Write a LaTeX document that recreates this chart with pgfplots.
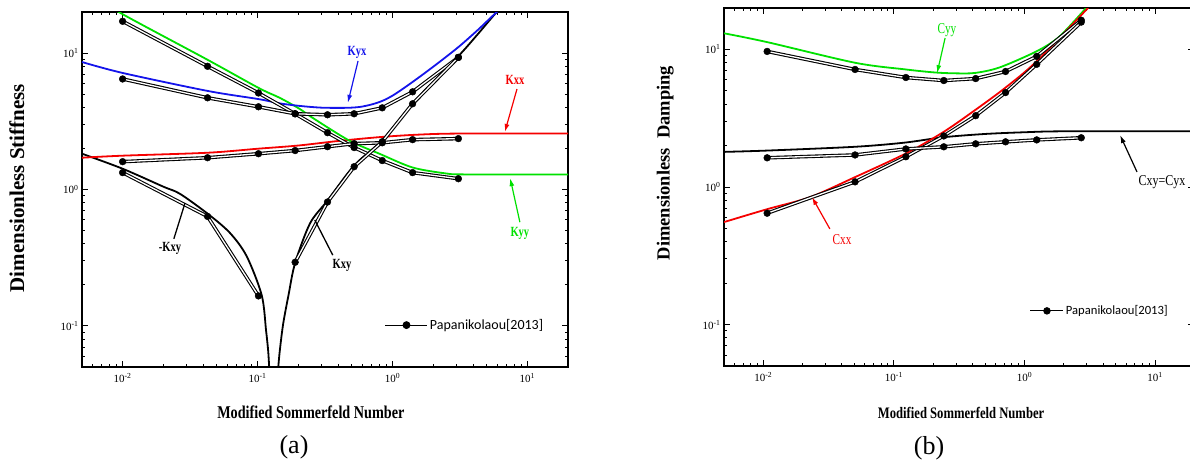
\documentclass[border=0pt]{standalone}
\usepackage{pgfplots}
\pgfplotsset{compat=1.18}
\usepackage{fontspec}
\setmainfont{Liberation Serif}
\newfontfamily\carlito{Carlito}
\usepackage{graphicx}
\usetikzlibrary{arrows.meta}
\definecolor{kgreen}{RGB}{0,225,0}
\definecolor{kblue}{RGB}{20,20,235}
\definecolor{kred}{RGB}{245,0,0}

\pgfplotsset{
  scale only axis,
  xmin=0.005, xmax=20, ymin=0.05, ymax=20,
  xtick={0.01,0.1,1,10},
  xticklabels={10\textsuperscript{-2},10\textsuperscript{-1},10\textsuperscript{0},10\textsuperscript{1}},
  ytick={0.1,1,10},
  yticklabels={10\textsuperscript{-1},10\textsuperscript{0},10\textsuperscript{1}},
  minor xtick={0.006,0.007,0.008,0.009,0.02,0.03,0.04,0.05,0.06,0.07,0.08,0.09,0.2,0.3,0.4,0.5,0.6,0.7,0.8,0.9,2,3,4,5,6,7,8,9},
  minor ytick={0.06,0.07,0.08,0.09,0.2,0.3,0.4,0.5,0.6,0.7,0.8,0.9,2,3,4,5,6,7,8,9},
  tick align=inside,
  major tick length=6pt, minor tick length=3.5pt,
  tick style={black, line width=1pt},
  axis line style={line width=1.6pt},
  tick label style={font=\fontsize{11}{12}\selectfont},
  xticklabel style={yshift=-3pt},
}
\tikzset{
  model/.style={line width=1.8pt, smooth, tension=0.5},
  datl/.style={black, line width=1.1pt, double=white, double distance=1.3pt},
  datm/.style={black, mark=*, mark size=3.4pt},
  ann/.style={font=\bfseries\fontsize{14}{16}\selectfont},
  annc/.style={font=\fontsize{15}{17}\selectfont},
}

\begin{document}
\begin{tikzpicture}
% ---------------- (a) ----------------
\begin{loglogaxis}[at={(82pt,100pt)}, anchor=south west, width=486pt, height=355pt,
  xlabel={\scalebox{0.79}[1]{Modified Sommerfeld Number}},
  xlabel style={font=\bfseries\fontsize{18}{20}\selectfont, at={(axis description cs:0.471,-0.127)}, anchor=center},
  ylabel={Dimensionless Stiffness},
  ylabel style={font=\bfseries\fontsize{21}{24}\selectfont, at={(axis description cs:-0.134,0.504)}, anchor=center},
  legend style={at={(axis description cs:0.623,0.118)}, anchor=west, draw=none, fill=none, font=\carlito\fontsize{14}{16}\selectfont, inner sep=0pt},
  legend image code/.code={\draw[mark repeat=2,mark phase=2,#1] plot coordinates {(0pt,0pt) (21pt,0pt) (42pt,0pt)};},
]
% model curves
\addplot[model, black, forget plot] coordinates {(0.005,1.83) (0.01,1.42) (0.02,1.05) (0.0266,0.93) (0.0431,0.66) (0.0625,0.48) (0.083,0.325) (0.1074,0.168) (0.1156,0.093) (0.12,0.065) (0.1225,0.046)};
\addplot[model, black, forget plot] coordinates {(0.1415,0.046) (0.146,0.065) (0.155,0.104) (0.17,0.17) (0.19,0.29) (0.245,0.565) (0.33,0.83) (0.52,1.5) (0.84,2.3) (1.45,4.4) (3.08,9.5) (4.3,13.8) (5.93,20) (7,23)};
\addplot[model, kred, forget plot] coordinates {(0.005,1.71) (0.01,1.77) (0.0426,1.86) (0.1,1.99) (0.2,2.1) (0.4,2.27) (0.8,2.42) (1.5,2.52) (3,2.57) (20,2.57)};
\addplot[model, kgreen, forget plot] coordinates {(0.008,23) (0.0098,19.5) (0.042,9.0) (0.1016,5.56) (0.146,4.7) (0.205,3.9) (0.255,3.36) (0.48,2.28) (0.8,1.83) (1.41,1.45) (2.51,1.31) (3.5,1.29) (20,1.29)};
\addplot[model, kblue, forget plot] coordinates {(0.005,8.6) (0.01,7.15) (0.0426,5.28) (0.1016,4.6) (0.146,4.28) (0.205,4.1) (0.3,3.98) (0.456,3.97) (0.574,4.03) (0.7,4.2) (0.84,4.46) (1.01,4.9) (1.3,5.8) (1.79,7.3) (2.4,9.1) (3.16,11.3) (4.3,14.8) (5.93,20) (7,23)};
% Papanikolaou data
\addplot[datl, forget plot] coordinates {(0.01,17.1) (0.0426,8.0) (0.1016,5.1) (0.19,3.59) (0.33,2.61) (0.52,2.03) (0.84,1.63) (1.41,1.33) (3.08,1.20)};
\addplot[datl, forget plot] coordinates {(0.01,6.46) (0.0426,4.70) (0.1016,4.04) (0.19,3.59) (0.33,3.53) (0.52,3.59) (0.84,3.97) (1.41,5.2) (3.08,9.3)};
\addplot[datl, forget plot] coordinates {(0.01,1.60) (0.0426,1.71) (0.1016,1.83) (0.19,1.93) (0.33,2.06) (0.52,2.17) (0.84,2.20) (1.41,2.32) (3.08,2.36)};
\addplot[datl, forget plot] coordinates {(0.01,1.33) (0.0426,0.635) (0.1016,0.166)};
\addplot[datl, forget plot] coordinates {(0.19,0.293) (0.33,0.81) (0.52,1.47) (0.84,2.24) (1.41,4.25) (3.08,9.3)};
\addplot[datm, only marks, forget plot] coordinates {(0.01,17.1) (0.0426,8.0) (0.1016,5.1) (0.19,3.59) (0.33,2.61) (0.52,2.03) (0.84,1.63) (1.41,1.33) (3.08,1.20)};
\addplot[datm, only marks, forget plot] coordinates {(0.01,6.46) (0.0426,4.70) (0.1016,4.04) (0.19,3.59) (0.33,3.53) (0.52,3.59) (0.84,3.97) (1.41,5.2) (3.08,9.3)};
\addplot[datm, only marks, forget plot] coordinates {(0.01,1.60) (0.0426,1.71) (0.1016,1.83) (0.19,1.93) (0.33,2.06) (0.52,2.17) (0.84,2.20) (1.41,2.32) (3.08,2.36)};
\addplot[datm, only marks, forget plot] coordinates {(0.01,1.33) (0.0426,0.635) (0.1016,0.166)};
\addplot[datm, only marks, forget plot] coordinates {(0.19,0.293) (0.33,0.81) (0.52,1.47) (0.84,2.24) (1.41,4.25) (3.08,9.3)};
\addlegendimage{black, line width=1pt, mark=*, mark size=3.4pt}
\addlegendentry{Papanikolaou[2013]}
% annotations
\node[ann, kblue] at (rel axis cs:0.566,0.887) {\scalebox{0.75}[1]{Kyx}};
\draw[kblue, line width=1.2pt, -{Latex[length=8pt,width=5pt]}] (rel axis cs:0.568,0.862) -- (rel axis cs:0.547,0.744);
\node[ann, kred] at (rel axis cs:0.891,0.808) {\scalebox{0.75}[1]{Kxx}};
\draw[kred, line width=1.2pt, -{Latex[length=8pt,width=5pt]}] (rel axis cs:0.895,0.783) -- (rel axis cs:0.870,0.662);
\node[ann, kgreen] at (rel axis cs:0.901,0.377) {\scalebox{0.75}[1]{Kyy}};
\draw[kgreen, line width=1.2pt, -{Latex[length=8pt,width=5pt]}] (rel axis cs:0.901,0.408) -- (rel axis cs:0.881,0.532);
\node[ann, black] at (rel axis cs:0.181,0.335) {\scalebox{0.75}[1]{-Kxy}};
\draw[black, line width=1.3pt] (rel axis cs:0.189,0.361) -- (rel axis cs:0.212,0.462);
\node[ann, black] at (rel axis cs:0.535,0.287) {\scalebox{0.75}[1]{Kxy}};
\draw[black, line width=1.3pt] (rel axis cs:0.516,0.315) -- (rel axis cs:0.479,0.414);
\end{loglogaxis}

% ---------------- (b) ----------------
\begin{loglogaxis}[at={(724pt,101pt)}, anchor=south west, width=470.4pt, height=358pt,
  xlabel={\scalebox{0.79}[1]{Modified Sommerfeld Number}},
  xlabel style={font=\bfseries\fontsize{16}{18}\selectfont, at={(axis description cs:0.504,-0.131)}, anchor=center},
  ylabel={Dimensionless\ \ Damping},
  ylabel style={font=\bfseries\fontsize{18.5}{22}\selectfont, at={(axis description cs:-0.125,0.567)}, anchor=center},
  legend style={at={(axis description cs:0.650,0.154)}, anchor=west, draw=none, fill=none, font=\carlito\fontsize{12.6}{15}\selectfont, inner sep=0pt},
  legend image code/.code={\draw[mark repeat=2,mark phase=2,#1] plot coordinates {(0pt,0pt) (16.5pt,0pt) (33pt,0pt)};},
]
\addplot[model, black, forget plot] coordinates {(0.005,1.8) (0.0107,1.84) (0.05,1.96) (0.12,2.1) (0.24,2.3) (0.5,2.43) (1,2.5) (2,2.54) (20,2.54)};
\addplot[model, kgreen, forget plot] coordinates {(0.005,13.1) (0.0107,11.3) (0.0504,8.0) (0.1235,7.15) (0.206,6.8) (0.3,6.7) (0.42,6.75) (0.645,7.4) (1.24,9.7) (1.85,12.4) (3.0,20.3)};
\addplot[model, kred, forget plot] coordinates {(0.005,0.556) (0.0107,0.69) (0.0229,0.845) (0.0504,1.18) (0.126,1.77) (0.241,2.52) (0.423,3.65) (0.716,5.28) (1.24,8.2) (3.0,19.6) (3.3,22)};
\addplot[datl, forget plot] coordinates {(0.0107,9.67) (0.0504,7.15) (0.1235,6.25) (0.241,5.94) (0.423,6.14) (0.716,6.91) (1.24,8.9) (2.72,16.3)};
\addplot[datl, forget plot] coordinates {(0.0107,0.645) (0.0504,1.09) (0.1235,1.66) (0.241,2.35) (0.423,3.3) (0.716,4.86) (1.24,7.8) (2.72,15.8)};
\addplot[datl, forget plot] coordinates {(0.0107,1.63) (0.0504,1.71) (0.1235,1.89) (0.241,1.96) (0.423,2.06) (0.716,2.13) (1.24,2.2) (2.72,2.28)};
\addplot[datm, only marks, forget plot] coordinates {(0.0107,9.67) (0.0504,7.15) (0.1235,6.25) (0.241,5.94) (0.423,6.14) (0.716,6.91) (1.24,8.9) (2.72,16.3)};
\addplot[datm, only marks, forget plot] coordinates {(0.0107,0.645) (0.0504,1.09) (0.1235,1.66) (0.241,2.35) (0.423,3.3) (0.716,4.86) (1.24,7.8) (2.72,15.8)};
\addplot[datm, only marks, forget plot] coordinates {(0.0107,1.63) (0.0504,1.71) (0.1235,1.89) (0.241,1.96) (0.423,2.06) (0.716,2.13) (1.24,2.2) (2.72,2.28)};
\addlegendimage{black, line width=1pt, mark=*, mark size=3.2pt}
\addlegendentry{Papanikolaou[2013]}
\node[annc, kgreen] at (rel axis cs:0.474,0.939) {\scalebox{0.75}[1]{Cyy}};
\draw[kgreen, line width=1.2pt, -{Latex[length=8pt,width=5pt]}] (rel axis cs:0.470,0.916) -- (rel axis cs:0.453,0.818);
\node[annc, kred] at (rel axis cs:0.251,0.352) {\scalebox{0.75}[1]{Cxx}};
\draw[kred, line width=1.2pt, -{Latex[length=8pt,width=5pt]}] (rel axis cs:0.225,0.383) -- (rel axis cs:0.187,0.472);
\node[annc, black, anchor=west] at (rel axis cs:0.874,0.514) {\scalebox{0.8}[1]{Cxy=Cyx}};
\draw[black, line width=1.2pt, -{Latex[length=8pt,width=5pt]}] (rel axis cs:0.878,0.542) -- (rel axis cs:0.842,0.645);
\end{loglogaxis}

\node[font=\fontsize{26}{30}\selectfont] at (294pt,20pt) {(a)};
\node[font=\fontsize{26}{30}\selectfont] at (929pt,19pt) {(b)};
\pgfresetboundingbox
\useasboundingbox (0,0) rectangle (1190pt,467pt);
\end{tikzpicture}
\end{document}
